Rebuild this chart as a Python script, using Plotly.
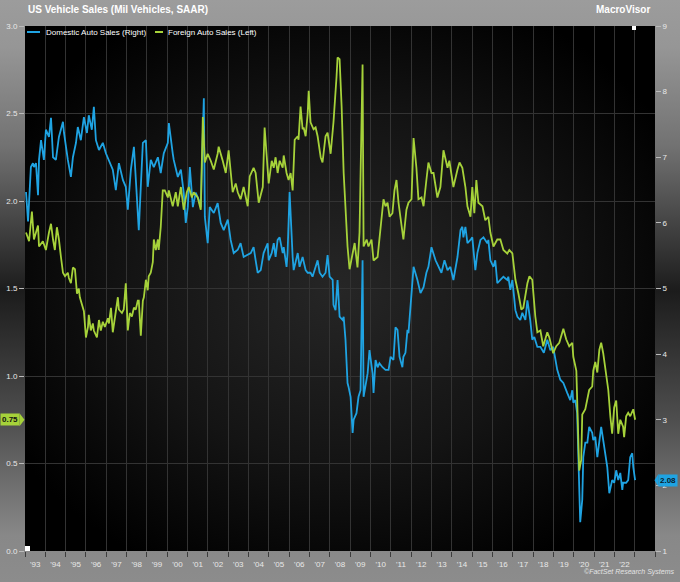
import base64
import pandas as pd
import plotly.graph_objects as go

TITLE = "US Vehicle Sales (Mil Vehicles, SAAR)"
BRAND = "MacroVisor"
CREDIT = "©FactSet Research Systems"
NAME_DOM = "Domestic Auto Sales (Right)"
NAME_FOR = "Foreign Auto Sales (Left)"

label_years = list(range(1993, 2023))
year_labels = ["'" + str(y)[2:] for y in label_years]

# (decimal year, million units SAAR)
foreign = [
    (1993.05, 1.82), (1993.20, 1.77), (1993.34, 1.94), (1993.44, 1.78), (1993.64, 1.86), (1993.69, 1.74),
    (1993.88, 1.77), (1994.03, 1.72), (1994.18, 1.82), (1994.28, 1.87), (1994.38, 1.78), (1994.47, 1.72),
    (1994.57, 1.85), (1994.67, 1.78), (1994.77, 1.68), (1994.87, 1.59), (1994.97, 1.57), (1995.11, 1.59),
    (1995.16, 1.56), (1995.26, 1.53), (1995.36, 1.62), (1995.46, 1.61), (1995.56, 1.47), (1995.65, 1.50),
    (1995.70, 1.45), (1995.85, 1.38), (1995.90, 1.37), (1996.00, 1.22), (1996.10, 1.28), (1996.14, 1.35),
    (1996.24, 1.26), (1996.34, 1.30), (1996.39, 1.26), (1996.54, 1.22), (1996.64, 1.32), (1996.73, 1.26),
    (1996.83, 1.31), (1996.93, 1.28), (1997.08, 1.33), (1997.13, 1.30), (1997.23, 1.39), (1997.32, 1.25),
    (1997.42, 1.32), (1997.57, 1.45), (1997.62, 1.38), (1997.77, 1.36), (1997.86, 1.38), (1997.96, 1.53),
    (1998.06, 1.26), (1998.16, 1.36), (1998.26, 1.34), (1998.36, 1.39), (1998.45, 1.38), (1998.55, 1.43),
    (1998.60, 1.43), (1998.70, 1.23), (1998.80, 1.43), (1998.85, 1.45), (1998.95, 1.55), (1999.04, 1.49),
    (1999.09, 1.57), (1999.19, 1.59), (1999.29, 1.65), (1999.34, 1.78), (1999.44, 1.72), (1999.54, 1.78),
    (1999.58, 1.72), (1999.68, 1.85), (1999.78, 2.06), (1999.88, 2.06), (2000.03, 2.02), (2000.08, 2.06),
    (2000.27, 1.97), (2000.42, 2.05), (2000.52, 1.97), (2000.67, 2.08), (2000.81, 1.95), (2000.96, 2.05),
    (2001.06, 2.08), (2001.21, 2.02), (2001.30, 2.05), (2001.50, 2.02), (2001.65, 1.95), (2001.75, 2.48),
    (2001.85, 2.22), (2001.99, 2.27), (2002.14, 2.23), (2002.29, 2.18), (2002.48, 2.27), (2002.53, 2.31),
    (2002.73, 2.23), (2002.88, 2.16), (2003.02, 2.29), (2003.22, 2.05), (2003.37, 2.10), (2003.47, 2.05),
    (2003.61, 2.01), (2003.76, 2.08), (2003.96, 1.97), (2004.06, 2.14), (2004.25, 2.19), (2004.35, 2.16),
    (2004.50, 1.99), (2004.70, 2.08), (2004.79, 2.42), (2004.89, 2.25), (2004.99, 2.10), (2005.14, 2.23),
    (2005.24, 2.19), (2005.33, 2.25), (2005.43, 2.16), (2005.53, 2.23), (2005.68, 2.19), (2005.73, 2.26),
    (2005.87, 2.16), (2005.97, 2.12), (2006.07, 2.16), (2006.17, 2.06), (2006.27, 2.35), (2006.42, 2.37),
    (2006.46, 2.35), (2006.56, 2.54), (2006.66, 2.41), (2006.71, 2.42), (2006.81, 2.37), (2006.91, 2.50),
    (2006.96, 2.63), (2007.05, 2.45), (2007.20, 2.41), (2007.30, 2.42), (2007.40, 2.37), (2007.55, 2.25),
    (2007.64, 2.22), (2007.79, 2.37), (2007.89, 2.39), (2008.04, 2.27), (2008.18, 2.45), (2008.33, 2.71),
    (2008.38, 2.82), (2008.48, 2.81), (2008.58, 2.54), (2008.68, 2.16), (2008.77, 1.93), (2008.87, 1.74),
    (2008.97, 1.61), (2009.12, 1.70), (2009.22, 1.76), (2009.36, 1.62), (2009.46, 1.82), (2009.61, 2.78),
    (2009.66, 1.74), (2009.81, 1.78), (2009.90, 1.74), (2010.05, 1.78), (2010.15, 1.66), (2010.35, 1.68),
    (2010.49, 1.85), (2010.64, 2.01), (2010.74, 1.97), (2010.84, 1.99), (2010.94, 1.91), (2011.08, 1.93),
    (2011.18, 2.06), (2011.28, 2.12), (2011.38, 1.99), (2011.53, 1.85), (2011.62, 1.78), (2011.77, 1.95),
    (2011.87, 1.99), (2012.02, 2.01), (2012.12, 2.36), (2012.26, 2.19), (2012.36, 2.01), (2012.51, 2.02),
    (2012.61, 1.97), (2012.75, 2.12), (2012.85, 2.22), (2013.00, 2.16), (2013.10, 2.16), (2013.29, 2.02),
    (2013.44, 2.08), (2013.59, 2.29), (2013.79, 2.19), (2013.88, 2.23), (2014.08, 2.08), (2014.28, 2.18),
    (2014.38, 2.22), (2014.52, 2.19), (2014.67, 2.08), (2014.77, 1.97), (2014.92, 1.91), (2015.01, 2.08),
    (2015.11, 1.93), (2015.21, 2.12), (2015.31, 1.99), (2015.51, 1.97), (2015.65, 1.89), (2015.80, 1.91),
    (2015.90, 1.82), (2016.05, 1.74), (2016.24, 1.78), (2016.39, 1.78), (2016.54, 1.72), (2016.73, 1.70),
    (2016.83, 1.72), (2016.98, 1.70), (2017.13, 1.55), (2017.28, 1.47), (2017.42, 1.38), (2017.52, 1.39),
    (2017.72, 1.53), (2017.82, 1.57), (2017.96, 1.55), (2018.11, 1.34), (2018.21, 1.25), (2018.36, 1.26),
    (2018.50, 1.17), (2018.70, 1.25), (2018.80, 1.22), (2018.99, 1.13), (2019.14, 1.17), (2019.29, 1.19),
    (2019.49, 1.27), (2019.63, 1.21), (2019.78, 1.17), (2019.93, 1.19), (2019.98, 1.11), (2020.13, 1.03),
    (2020.17, 0.86), (2020.27, 0.46), (2020.37, 0.52), (2020.42, 0.78), (2020.57, 0.81), (2020.67, 0.86),
    (2020.76, 0.92), (2020.91, 0.94), (2020.96, 1.03), (2021.06, 1.08), (2021.16, 1.02), (2021.26, 1.15),
    (2021.35, 1.19), (2021.45, 1.13), (2021.55, 1.05), (2021.70, 0.92), (2021.80, 0.77), (2021.89, 0.67),
    (2021.99, 0.82), (2022.09, 0.86), (2022.19, 0.67), (2022.29, 0.75), (2022.43, 0.71), (2022.48, 0.65),
    (2022.58, 0.77), (2022.68, 0.79), (2022.78, 0.77), (2022.93, 0.81), (2023.02, 0.75),
]

domestic = [
    (1993.05, 6.47), (1993.15, 6.02), (1993.29, 6.85), (1993.39, 6.91), (1993.44, 6.85), (1993.54, 6.91),
    (1993.64, 6.42), (1993.69, 6.96), (1993.79, 7.26), (1993.93, 6.96), (1994.03, 7.42), (1994.18, 7.31),
    (1994.28, 7.60), (1994.38, 7.00), (1994.52, 6.96), (1994.67, 7.31), (1994.87, 7.54), (1994.92, 7.37),
    (1995.11, 6.96), (1995.26, 6.70), (1995.36, 7.00), (1995.51, 7.22), (1995.60, 7.46), (1995.75, 7.26),
    (1995.90, 7.61), (1996.05, 7.37), (1996.14, 7.64), (1996.29, 7.42), (1996.39, 7.77), (1996.49, 7.26),
    (1996.64, 7.11), (1996.83, 7.22), (1996.98, 7.06), (1997.13, 6.96), (1997.32, 6.81), (1997.47, 6.50),
    (1997.62, 6.91), (1997.82, 6.65), (1997.96, 6.55), (1998.06, 6.20), (1998.21, 6.81), (1998.36, 7.16),
    (1998.50, 6.46), (1998.60, 5.89), (1998.80, 7.22), (1998.95, 7.26), (1999.04, 6.55), (1999.19, 6.96),
    (1999.34, 6.85), (1999.54, 7.00), (1999.68, 6.76), (1999.83, 7.06), (2000.03, 7.22), (2000.08, 7.52),
    (2000.27, 7.06), (2000.32, 6.96), (2000.52, 6.70), (2000.67, 6.81), (2000.81, 6.46), (2000.91, 6.00),
    (2001.01, 6.24), (2001.11, 6.85), (2001.26, 6.24), (2001.40, 6.46), (2001.55, 6.35), (2001.65, 6.24),
    (2001.80, 7.90), (2001.85, 6.09), (2001.99, 5.69), (2002.09, 6.24), (2002.29, 6.15), (2002.48, 6.30),
    (2002.63, 6.00), (2002.78, 5.89), (2002.98, 6.05), (2003.12, 5.74), (2003.27, 5.54), (2003.47, 5.59),
    (2003.61, 5.69), (2003.76, 5.48), (2004.11, 5.54), (2004.25, 5.63), (2004.35, 5.43), (2004.45, 5.24),
    (2004.60, 5.28), (2004.74, 5.54), (2004.94, 5.69), (2004.99, 5.43), (2005.14, 5.54), (2005.24, 5.69),
    (2005.33, 5.48), (2005.43, 5.74), (2005.53, 5.78), (2005.68, 5.54), (2005.73, 5.63), (2005.87, 5.33),
    (2005.92, 5.54), (2006.02, 6.47), (2006.17, 5.48), (2006.22, 5.28), (2006.42, 5.54), (2006.51, 5.33),
    (2006.66, 5.48), (2006.81, 5.28), (2006.91, 5.24), (2007.05, 5.24), (2007.15, 5.18), (2007.30, 5.33),
    (2007.40, 5.43), (2007.50, 5.24), (2007.64, 5.18), (2007.79, 5.24), (2007.89, 5.51), (2007.99, 5.18),
    (2008.14, 5.13), (2008.18, 4.75), (2008.28, 4.67), (2008.38, 5.13), (2008.48, 4.57), (2008.63, 4.52),
    (2008.68, 4.57), (2008.77, 4.22), (2008.87, 3.56), (2008.92, 3.50), (2009.02, 3.35), (2009.12, 2.80),
    (2009.17, 3.00), (2009.31, 3.10), (2009.41, 3.35), (2009.51, 3.45), (2009.61, 5.43), (2009.66, 3.35),
    (2009.76, 3.56), (2009.86, 3.71), (2009.95, 4.06), (2010.10, 3.71), (2010.15, 3.41), (2010.25, 3.91),
    (2010.35, 3.80), (2010.44, 3.86), (2010.59, 3.80), (2010.74, 3.76), (2010.89, 3.76), (2010.99, 3.96),
    (2011.13, 3.91), (2011.23, 4.41), (2011.33, 4.37), (2011.43, 3.96), (2011.57, 3.80), (2011.62, 3.96),
    (2011.72, 4.02), (2011.82, 4.37), (2011.87, 4.32), (2012.07, 5.08), (2012.12, 5.33), (2012.31, 5.13),
    (2012.46, 4.93), (2012.61, 5.02), (2012.75, 5.24), (2012.85, 5.33), (2013.00, 5.63), (2013.20, 5.43),
    (2013.34, 5.33), (2013.49, 5.24), (2013.64, 5.43), (2013.79, 5.28), (2013.93, 5.33), (2014.08, 5.13),
    (2014.28, 5.48), (2014.43, 5.89), (2014.52, 5.94),
    (2014.57, 5.78), (2014.67, 5.94), (2014.77, 5.69), (2014.92, 5.74), (2015.01, 5.78), (2015.16, 5.28),
    (2015.26, 5.54), (2015.41, 5.74), (2015.56, 5.78), (2015.75, 5.69), (2015.80, 5.74), (2015.90, 5.43),
    (2016.05, 5.33), (2016.14, 5.43), (2016.24, 5.08), (2016.39, 5.13), (2016.54, 5.18), (2016.73, 5.13),
    (2016.78, 5.18), (2016.88, 4.98), (2016.98, 5.13), (2017.13, 4.67), (2017.23, 4.57), (2017.37, 4.52),
    (2017.47, 4.63), (2017.62, 4.52), (2017.72, 4.82), (2017.86, 4.52), (2017.96, 4.22), (2018.06, 4.26),
    (2018.21, 4.11), (2018.36, 4.11), (2018.53, 4.02), (2018.70, 4.22), (2018.85, 4.06), (2018.99, 4.11),
    (2019.19, 3.76), (2019.34, 3.61), (2019.49, 3.56), (2019.68, 3.41), (2019.83, 3.30), (2019.93, 3.45),
    (2019.98, 3.26), (2020.08, 3.30), (2020.17, 3.10), (2020.22, 2.54), (2020.32, 1.44), (2020.42, 1.78),
    (2020.47, 2.43), (2020.57, 2.65), (2020.67, 2.65), (2020.76, 2.89), (2020.91, 2.80), (2020.96, 2.69),
    (2021.06, 2.74), (2021.16, 2.43), (2021.26, 2.69), (2021.35, 2.89), (2021.45, 2.69), (2021.55, 2.49),
    (2021.65, 2.28), (2021.75, 1.88), (2021.89, 2.08), (2021.99, 2.04), (2022.09, 2.23), (2022.19, 2.08),
    (2022.29, 2.19), (2022.39, 1.93), (2022.43, 2.04), (2022.58, 2.04), (2022.68, 2.08), (2022.78, 2.43),
    (2022.88, 2.49), (2022.93, 2.28), (2023.02, 2.08),
]

BLUE = "#1fa3e2"
GREEN = "#a6d23a"
FONT = "Liberation Sans, Arial, sans-serif"


def to_dates(pairs):
    out = []
    for t, _ in pairs:
        y = int(t)
        start = pd.Timestamp(year=y, month=1, day=1)
        end = pd.Timestamp(year=y + 1, month=1, day=1)
        out.append(start + (end - start) * (t - y))
    return out


f_x = to_dates(foreign)
f_y = [v for _, v in foreign]
d_x = to_dates(domestic)
d_y = [v for _, v in domestic]

W, H = 680, 582
ML, MR, MT, MB = 25, 25, 26, 31
PW, PH = W - ML - MR, H - MT - MB


def px(xp):
    return (xp - ML) / PW


def py(yp):
    return (H - MB - yp) / PH


def svg_uri(svg):
    return "data:image/svg+xml;base64," + base64.b64encode(svg.encode()).decode()


paper_svg = (
    "<svg xmlns='http://www.w3.org/2000/svg' width='100' height='100' viewBox='0 0 100 100' preserveAspectRatio='none'>"
    "<defs><linearGradient id='g' x1='0' y1='0' x2='0' y2='1'>"
    "<stop offset='0' stop-color='#9c9c9c'/><stop offset='0.08' stop-color='#969696'/>"
    "<stop offset='0.25' stop-color='#727272'/><stop offset='0.5' stop-color='#1c1c1c'/>"
    "<stop offset='0.72' stop-color='#4e4e4e'/><stop offset='0.92' stop-color='#888888'/>"
    "<stop offset='1' stop-color='#8c8c8c'/></linearGradient></defs>"
    "<rect x='0' y='0' width='100' height='100' fill='url(#g)'/></svg>"
)
plot_svg = (
    "<svg xmlns='http://www.w3.org/2000/svg' width='100' height='100' viewBox='0 0 100 100' preserveAspectRatio='none'>"
    "<defs><radialGradient id='p' cx='0.5' cy='0.5' r='0.6'>"
    "<stop offset='0' stop-color='#262626'/><stop offset='0.55' stop-color='#141414'/>"
    "<stop offset='1' stop-color='#000000'/></radialGradient></defs>"
    "<rect x='0' y='0' width='100' height='100' fill='url(#p)'/></svg>"
)

fig = go.Figure()
fig.add_trace(go.Scatter(x=d_x, y=d_y, mode="lines", name=NAME_DOM, yaxis="y",
                         line=dict(color=BLUE, width=1.8), showlegend=False))
fig.add_trace(go.Scatter(x=f_x, y=f_y, mode="lines", name=NAME_FOR, yaxis="y2",
                         line=dict(color=GREEN, width=1.8), showlegend=False))

tick_font = dict(family=FONT, size=8, color="#e8e8e8")

fig.update_layout(
    width=W, height=H,
    margin=dict(l=ML, r=MR, t=MT, b=MB, pad=0, autoexpand=False),
    paper_bgcolor="#8e8e8e",
    plot_bgcolor="rgba(0,0,0,0)",
    font=dict(family=FONT, color="white"),
    showlegend=False,
    xaxis=dict(
        type="date", range=["1993-01-01", "2024-01-01"],
        tickmode="array",
        tickvals=[f"{y}-07-02" for y in label_years], ticktext=year_labels,
        ticks="outside", ticklen=5, tickcolor="rgba(0,0,0,0)",
        tickfont=tick_font, showgrid=False, zeroline=False, showline=False,
        automargin=False,
        minor=dict(dtick="M12", tick0="1993-01-01", ticks="outside", ticklen=5,
                   tickcolor="#3c3c3c", showgrid=True, gridcolor="#333333", gridwidth=1),
    ),
    yaxis=dict(
        range=[1, 9], dtick=1, side="right", ticks="outside", ticklen=5, automargin=False,
        tickcolor="#bbbbbb", tickfont=tick_font, showgrid=False, zeroline=False,
    ),
    yaxis2=dict(
        range=[0, 3], dtick=0.5, tickformat=".1f", side="left", overlaying="y",
        ticks="outside", ticklen=5, tickcolor="#bbbbbb", tickfont=tick_font, automargin=False,
        showgrid=True, gridcolor="#333333", gridwidth=1, zeroline=False,
    ),
    images=[
        dict(source=svg_uri(paper_svg), xref="paper", yref="paper",
             x=-ML / PW, y=1 + MT / PH, sizex=W / PW, sizey=H / PH,
             sizing="stretch", xanchor="left", yanchor="top", layer="below"),
        dict(source=svg_uri(plot_svg), xref="paper", yref="paper",
             x=0, y=1, sizex=1, sizey=1,
             sizing="stretch", xanchor="left", yanchor="top", layer="below"),
    ],
)

ann = []
ann.append(dict(text=f"<b>{TITLE}</b>", xref="paper", yref="paper", x=px(26), y=py(10),
                xanchor="left", yanchor="middle", showarrow=False,
                font=dict(family=FONT, size=10, color="white")))
ann.append(dict(text=f"<b>{BRAND}</b>", xref="paper", yref="paper", x=px(652), y=py(10),
                xanchor="right", yanchor="middle", showarrow=False,
                font=dict(family=FONT, size=10, color="white")))
ann.append(dict(text=NAME_DOM, xref="paper", yref="paper", x=px(44), y=py(32),
                xanchor="left", yanchor="middle", showarrow=False,
                font=dict(family=FONT, size=8, color="white")))
ann.append(dict(text=NAME_FOR, xref="paper", yref="paper", x=px(166), y=py(32),
                xanchor="left", yanchor="middle", showarrow=False,
                font=dict(family=FONT, size=8, color="white")))
ann.append(dict(text=f"<i>{CREDIT}</i>", xref="paper", yref="paper", x=px(676), y=py(572),
                xanchor="right", yanchor="middle", showarrow=False,
                font=dict(family=FONT, size=7, color="#e4e4e4")))

last_f = f_y[-1]
last_d = d_y[-1]
ann.append(dict(text=f"<b>{last_f:.2f}</b>", xref="paper", yref="y2", x=px(20), y=last_f,
                xanchor="right", yanchor="middle", showarrow=False, bgcolor=GREEN,
                borderpad=1, font=dict(family=FONT, size=8, color="#111111")))
ann.append(dict(text=f"<b>{last_d:.2f}</b>", xref="paper", yref="y", x=px(658), y=last_d,
                xanchor="left", yanchor="middle", showarrow=False, bgcolor=BLUE,
                borderpad=1, font=dict(family=FONT, size=8, color="#0a1a2a")))
fig.update_layout(annotations=ann)

shapes = []
# legend swatches
shapes.append(dict(type="line", xref="paper", yref="paper", x0=px(27), x1=px(40), y0=py(32), y1=py(32),
                   line=dict(color=BLUE, width=2)))
shapes.append(dict(type="line", xref="paper", yref="paper", x0=px(155), x1=px(163), y0=py(32), y1=py(32),
                   line=dict(color=GREEN, width=2)))
# tag pointers
df = 6.5 / PH * 3
dd = 6.5 / PH * 8
shapes.append(dict(type="path", xref="paper", yref="y2",
                   path=f"M {px(19.5)},{last_f + df} L {px(24.5)},{last_f} L {px(19.5)},{last_f - df} Z",
                   fillcolor=GREEN, line=dict(width=0)))
shapes.append(dict(type="path", xref="paper", yref="y",
                   path=f"M {px(658.5)},{last_d + dd} L {px(654.5)},{last_d} L {px(658.5)},{last_d - dd} Z",
                   fillcolor=BLUE, line=dict(width=0)))
# small range markers
shapes.append(dict(type="rect", xref="paper", yref="paper", x0=px(25), x1=px(30), y0=py(551), y1=py(546),
                   fillcolor="white", line=dict(width=0)))
shapes.append(dict(type="rect", xref="paper", yref="paper", x0=px(632), x1=px(636), y0=py(30), y1=py(26),
                   fillcolor="white", line=dict(width=0)))
fig.update_layout(shapes=shapes)

fig.write_html("out.html", config={"displayModeBar": False},
               post_script="document.body.style.margin='0px';document.body.style.overflow='hidden';")
